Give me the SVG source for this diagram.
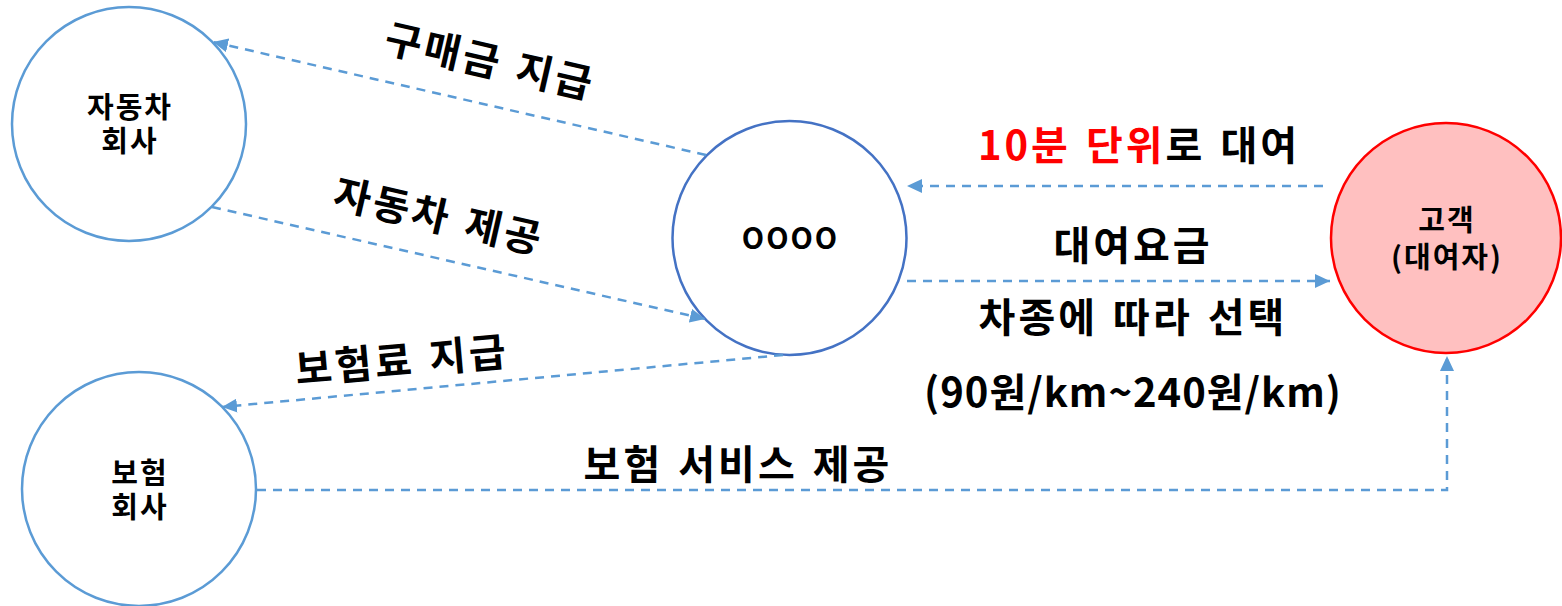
<svg xmlns="http://www.w3.org/2000/svg" width="1562" height="606" viewBox="0 0 1562 606">
<style>
.node{fill:#fff;stroke:#5B9BD5;stroke-width:2.5}
.t{font-family:"Malgun Gothic","Noto Sans CJK KR",sans-serif;font-weight:bold;fill:#000;text-anchor:middle}
.nl{font-size:29px;letter-spacing:2px}
.el{font-size:40px;letter-spacing:3px;word-spacing:3px}
.red{fill:#FF0000}
.c{fill:none;stroke:#5B9BD5;stroke-width:2.5;stroke-dasharray:9 7}
</style>
<defs>
<marker id="ah" markerUnits="userSpaceOnUse" markerWidth="16" markerHeight="14" refX="15" refY="7" orient="auto">
<path d="M0,0 L15,7 L0,14 Z" fill="#5B9BD5"/>
</marker>
</defs>
<rect width="1562" height="606" fill="#fff"/>
<g id="car-company">
<circle class="node" cx="129" cy="124" r="117"/>
<text class="t nl"><tspan x="130" y="118">자동차</tspan><tspan x="130" y="152">회사</tspan></text>
</g>
<g id="insurance-company">
<circle class="node" cx="139" cy="489" r="117"/>
<text class="t nl"><tspan x="140" y="484">보험</tspan><tspan x="140" y="518">회사</tspan></text>
</g>
<g id="oooo">
<circle class="node" style="stroke:#4472C4" cx="789.5" cy="238" r="117"/>
<text class="t nl" x="790.5" y="249">OOOO</text>
</g>
<g id="customer">
<circle class="node" style="fill:#FFC0C0;stroke:#FF0000" cx="1446" cy="238" r="115"/>
<text class="t nl"><tspan x="1447" y="231">고객</tspan><tspan x="1447" y="268">(대여자)</tspan></text>
</g>
<g id="connectors">
<line class="c" x1="706" y1="155" x2="213" y2="42" marker-end="url(#ah)"/>
<line class="c" x1="212" y1="207" x2="705" y2="319" marker-end="url(#ah)"/>
<line class="c" x1="783" y1="355" x2="222" y2="407" marker-end="url(#ah)"/>
<line class="c" x1="1323" y1="186" x2="907" y2="186" marker-end="url(#ah)"/>
<line class="c" x1="907" y1="281" x2="1330" y2="281" marker-end="url(#ah)"/>
<polyline class="c" points="257,490 1447,490 1447,356" marker-end="url(#ah)"/>
</g>
<g id="labels">
<text class="t el" transform="translate(490,62) rotate(13)" x="0" y="14">구매금 지급</text>
<text class="t el" transform="translate(439,217) rotate(13)" x="0" y="14">자동차 제공</text>
<text class="t el" transform="translate(402,361) rotate(-5)" x="0" y="14">보험료 지급</text>
<text class="t el" x="1139" y="160"><tspan class="red">10분 단위</tspan>로 대여</text>
<text class="t el" x="1133" y="260">대여요금</text>
<text class="t el" x="1133" y="332">차종에 따라 선택</text>
<text class="t el" style="letter-spacing:1px" x="1133" y="407">(90원/km~240원/km)</text>
<text class="t el" x="738" y="479">보험 서비스 제공</text>
</g>
</svg>
